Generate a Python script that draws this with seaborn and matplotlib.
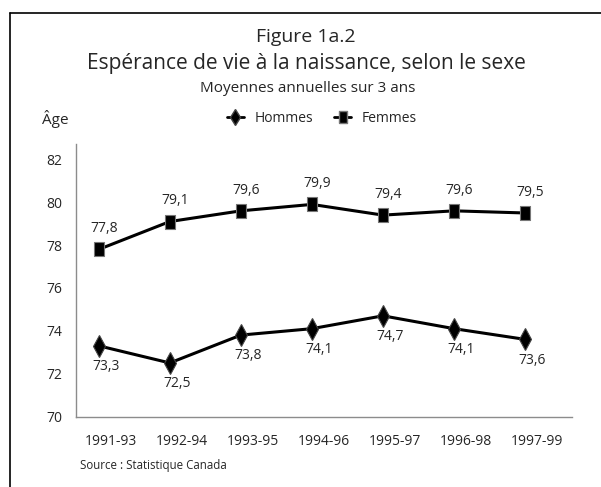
import pandas as pd
import matplotlib.pyplot as plt
import matplotlib.transforms as mtransforms
import seaborn as sns
from matplotlib.lines import Line2D

# Data
periodes = ["1991-93", "1992-94", "1993-95", "1994-96", "1995-97", "1996-98", "1997-99"]
hommes = [73.3, 72.5, 73.8, 74.1, 74.7, 74.1, 73.6]
femmes = [77.8, 79.1, 79.6, 79.9, 79.4, 79.6, 79.5]
yticks = [70, 72, 74, 76, 78, 80, 82]

sns.set_style("white")
plt.rcParams['font.family'] = ['Open Sans', 'DejaVu Sans']

df = pd.DataFrame({"Période": periodes, "Hommes": hommes, "Femmes": femmes})

# tall rectangle marker for Femmes
rect = [(-0.32, -0.5), (0.32, -0.5), (0.32, 0.5), (-0.32, 0.5), (-0.32, -0.5)]

fig = plt.figure(figsize=(6.01, 4.87), dpi=100)
W, H = 601, 487
ax = fig.add_axes([76 / W, 1 - 416.5 / H, (572 - 76) / W, (416.5 - 144) / H])

sns.lineplot(data=df, x="Période", y="Hommes", ax=ax, color="black", lw=2.2,
             marker="d", markersize=11, markeredgecolor="#444444", markeredgewidth=0.8)
sns.lineplot(data=df, x="Période", y="Femmes", ax=ax, color="black", lw=2.2,
             marker=rect, markersize=10.5, markeredgecolor="#777777", markeredgewidth=0.8)

for i, v in enumerate(femmes):
    ax.annotate(f"{v:.1f}".replace(".", ","), (i, v), xytext=(4, 15), textcoords="offset points",
                ha="center", va="center", fontsize=10)
for i, v in enumerate(hommes):
    ax.annotate(f"{v:.1f}".replace(".", ","), (i, v), xytext=(5, -15), textcoords="offset points",
                ha="center", va="center", fontsize=10)

ax.set_ylim(70, 82.72)
ax.set_xlim(-0.32, 6.66)
ax.set_yticks(yticks)
ax.set_yticklabels([str(t) for t in yticks], fontsize=10)
ax.tick_params(axis="x", labelsize=10, pad=9)
ax.tick_params(axis="y", pad=6.5)
# category labels sit slightly right of the markers, as in the source
shift = mtransforms.ScaledTranslation(12 / 100, 0, fig.dpi_scale_trans)
for lab in ax.get_xticklabels():
    lab.set_transform(lab.get_transform() + shift)
ax.set_xlabel("")
ax.set_ylabel("")
for s in ["top", "right"]:
    ax.spines[s].set_visible(False)
for s in ["left", "bottom"]:
    ax.spines[s].set_color("#8c8c8c")
    ax.spines[s].set_linewidth(1)

# Titles
fig.text(306 / W, 1 - 37 / H, "Figure 1a.2", ha="center", va="center", fontsize=14)
fig.text(306 / W, 1 - 63 / H, "Espérance de vie à la naissance, selon le sexe", ha="center", va="center", fontsize=15)
fig.text(308 / W, 1 - 89 / H, "Moyennes annuelles sur 3 ans", ha="center", va="center", fontsize=11)
fig.text(42 / W, 1 - 119 / H, "Âge", ha="left", va="center", fontsize=11)
fig.text(80 / W, 1 - 466 / H, "Source : Statistique Canada", ha="left", va="center", fontsize=8.3)

# Legend
handles = [
    Line2D([], [], color="black", lw=2, marker="d", markersize=8, markeredgecolor="#444444"),
    Line2D([], [], color="black", lw=2, marker=rect, markersize=8, markeredgecolor="#777777"),
]
fig.legend(handles, ["Hommes", "Femmes"], loc="center", bbox_to_anchor=(322 / W, 1 - 118 / H),
           ncol=2, frameon=False, fontsize=10, handlelength=1.2, columnspacing=1.5,
           handletextpad=0.8, borderpad=0, borderaxespad=0)

# Frame
fig.add_artist(Line2D([10 / W, 1], [1 - 13 / H, 1 - 13 / H], color="black", lw=1.2))
fig.add_artist(Line2D([10 / W, 10 / W], [1 - 13 / H, 0], color="black", lw=1.2))

fig.savefig("out.png", dpi=100)
